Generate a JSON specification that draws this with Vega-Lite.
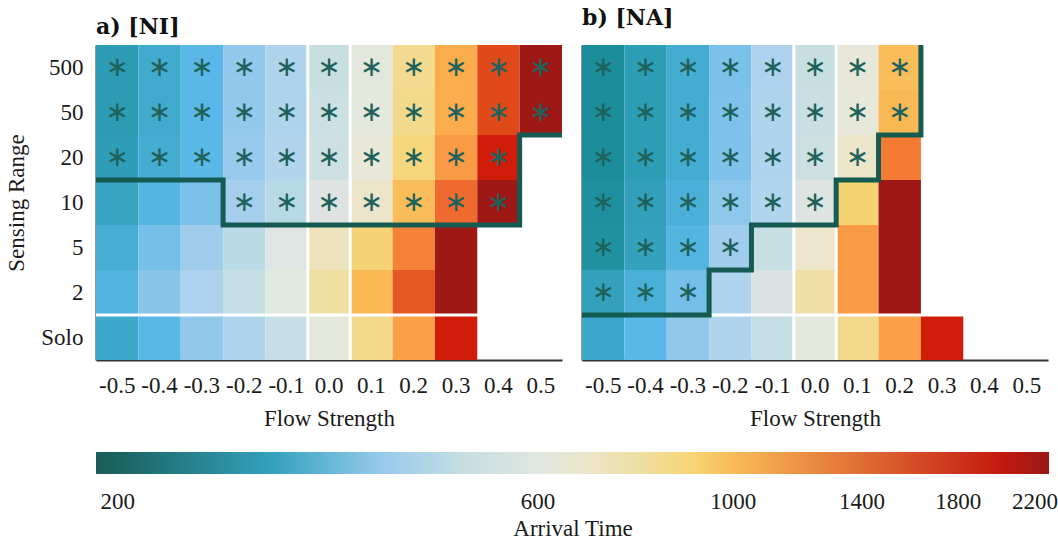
{
  "$schema": "https://vega.github.io/schema/vega-lite/v6.json",
  "background": "white",
  "padding": {"left": 5, "top": 7, "right": 5, "bottom": 2},
  "config": {
    "view": {"stroke": null},
    "font": "Liberation Serif",
    "axis": {"labelFont": "Liberation Serif", "titleFont": "Liberation Serif", "labelFontSize": 23, "titleFontSize": 23, "titleFontWeight": "normal", "labelColor": "#1a1a1a", "titleColor": "#1a1a1a", "domainColor": "#333333", "domainWidth": 2, "ticks": false, "tickSize": 0, "grid": false, "zindex": 1, "minExtent": 0},
    "legend": {"labelFont": "Liberation Serif", "titleFont": "Liberation Serif"}
  },
  "datasets": {
    "cells": [
      {"p":"NI","r":"500","f":"-0.5","t":288,"s":1},{"p":"NI","r":"500","f":"-0.4","t":318,"s":1},{"p":"NI","r":"500","f":"-0.3","t":350,"s":1},{"p":"NI","r":"500","f":"-0.2","t":395,"s":1},{"p":"NI","r":"500","f":"-0.1","t":432,"s":1},{"p":"NI","r":"500","f":"0.0","t":500,"s":1},{"p":"NI","r":"500","f":"0.1","t":625,"s":1},{"p":"NI","r":"500","f":"0.2","t":830,"s":1},{"p":"NI","r":"500","f":"0.3","t":1060,"s":1},{"p":"NI","r":"500","f":"0.4","t":1700,"s":1},{"p":"NI","r":"500","f":"0.5","t":2250,"s":1},
      {"p":"NI","r":"50","f":"-0.5","t":288,"s":1},{"p":"NI","r":"50","f":"-0.4","t":318,"s":1},{"p":"NI","r":"50","f":"-0.3","t":350,"s":1},{"p":"NI","r":"50","f":"-0.2","t":395,"s":1},{"p":"NI","r":"50","f":"-0.1","t":432,"s":1},{"p":"NI","r":"50","f":"0.0","t":505,"s":1},{"p":"NI","r":"50","f":"0.1","t":630,"s":1},{"p":"NI","r":"50","f":"0.2","t":835,"s":1},{"p":"NI","r":"50","f":"0.3","t":1070,"s":1},{"p":"NI","r":"50","f":"0.4","t":1700,"s":1},{"p":"NI","r":"50","f":"0.5","t":2250,"s":1},
      {"p":"NI","r":"20","f":"-0.5","t":292,"s":1},{"p":"NI","r":"20","f":"-0.4","t":322,"s":1},{"p":"NI","r":"20","f":"-0.3","t":352,"s":1},{"p":"NI","r":"20","f":"-0.2","t":400,"s":1},{"p":"NI","r":"20","f":"-0.1","t":437,"s":1},{"p":"NI","r":"20","f":"0.0","t":510,"s":1},{"p":"NI","r":"20","f":"0.1","t":650,"s":1},{"p":"NI","r":"20","f":"0.2","t":880,"s":1},{"p":"NI","r":"20","f":"0.3","t":1200,"s":1},{"p":"NI","r":"20","f":"0.4","t":1920,"s":1},
      {"p":"NI","r":"10","f":"-0.5","t":305,"s":0},{"p":"NI","r":"10","f":"-0.4","t":345,"s":0},{"p":"NI","r":"10","f":"-0.3","t":375,"s":0},{"p":"NI","r":"10","f":"-0.2","t":415,"s":1},{"p":"NI","r":"10","f":"-0.1","t":460,"s":1},{"p":"NI","r":"10","f":"0.0","t":560,"s":1},{"p":"NI","r":"10","f":"0.1","t":690,"s":1},{"p":"NI","r":"10","f":"0.2","t":990,"s":1},{"p":"NI","r":"10","f":"0.3","t":1510,"s":1},{"p":"NI","r":"10","f":"0.4","t":2250,"s":1},
      {"p":"NI","r":"5","f":"-0.5","t":325,"s":0},{"p":"NI","r":"5","f":"-0.4","t":370,"s":0},{"p":"NI","r":"5","f":"-0.3","t":410,"s":0},{"p":"NI","r":"5","f":"-0.2","t":465,"s":0},{"p":"NI","r":"5","f":"-0.1","t":570,"s":0},{"p":"NI","r":"5","f":"0.0","t":720,"s":0},{"p":"NI","r":"5","f":"0.1","t":900,"s":0},{"p":"NI","r":"5","f":"0.2","t":1350,"s":0},{"p":"NI","r":"5","f":"0.3","t":2250,"s":0},
      {"p":"NI","r":"2","f":"-0.5","t":340,"s":0},{"p":"NI","r":"2","f":"-0.4","t":385,"s":0},{"p":"NI","r":"2","f":"-0.3","t":425,"s":0},{"p":"NI","r":"2","f":"-0.2","t":490,"s":0},{"p":"NI","r":"2","f":"-0.1","t":610,"s":0},{"p":"NI","r":"2","f":"0.0","t":780,"s":0},{"p":"NI","r":"2","f":"0.1","t":1010,"s":0},{"p":"NI","r":"2","f":"0.2","t":1620,"s":0},{"p":"NI","r":"2","f":"0.3","t":2250,"s":0},
      {"p":"NI","r":"Solo","f":"-0.5","t":315,"s":0},{"p":"NI","r":"Solo","f":"-0.4","t":350,"s":0},{"p":"NI","r":"Solo","f":"-0.3","t":395,"s":0},{"p":"NI","r":"Solo","f":"-0.2","t":432,"s":0},{"p":"NI","r":"Solo","f":"-0.1","t":490,"s":0},{"p":"NI","r":"Solo","f":"0.0","t":630,"s":0},{"p":"NI","r":"Solo","f":"0.1","t":840,"s":0},{"p":"NI","r":"Solo","f":"0.2","t":1150,"s":0},{"p":"NI","r":"Solo","f":"0.3","t":1920,"s":0},
      {"p":"NA","r":"500","f":"-0.5","t":262,"s":1},{"p":"NA","r":"500","f":"-0.4","t":290,"s":1},{"p":"NA","r":"500","f":"-0.3","t":322,"s":1},{"p":"NA","r":"500","f":"-0.2","t":375,"s":1},{"p":"NA","r":"500","f":"-0.1","t":425,"s":1},{"p":"NA","r":"500","f":"0.0","t":500,"s":1},{"p":"NA","r":"500","f":"0.1","t":640,"s":1},{"p":"NA","r":"500","f":"0.2","t":990,"s":1},
      {"p":"NA","r":"50","f":"-0.5","t":262,"s":1},{"p":"NA","r":"50","f":"-0.4","t":290,"s":1},{"p":"NA","r":"50","f":"-0.3","t":322,"s":1},{"p":"NA","r":"50","f":"-0.2","t":377,"s":1},{"p":"NA","r":"50","f":"-0.1","t":427,"s":1},{"p":"NA","r":"50","f":"0.0","t":502,"s":1},{"p":"NA","r":"50","f":"0.1","t":645,"s":1},{"p":"NA","r":"50","f":"0.2","t":1010,"s":1},
      {"p":"NA","r":"20","f":"-0.5","t":262,"s":1},{"p":"NA","r":"20","f":"-0.4","t":290,"s":1},{"p":"NA","r":"20","f":"-0.3","t":322,"s":1},{"p":"NA","r":"20","f":"-0.2","t":378,"s":1},{"p":"NA","r":"20","f":"-0.1","t":428,"s":1},{"p":"NA","r":"20","f":"0.0","t":510,"s":1},{"p":"NA","r":"20","f":"0.1","t":690,"s":1},{"p":"NA","r":"20","f":"0.2","t":1400,"s":0},
      {"p":"NA","r":"10","f":"-0.5","t":266,"s":1},{"p":"NA","r":"10","f":"-0.4","t":296,"s":1},{"p":"NA","r":"10","f":"-0.3","t":330,"s":1},{"p":"NA","r":"10","f":"-0.2","t":390,"s":1},{"p":"NA","r":"10","f":"-0.1","t":435,"s":1},{"p":"NA","r":"10","f":"0.0","t":550,"s":1},{"p":"NA","r":"10","f":"0.1","t":905,"s":0},{"p":"NA","r":"10","f":"0.2","t":2250,"s":0},
      {"p":"NA","r":"5","f":"-0.5","t":270,"s":1},{"p":"NA","r":"5","f":"-0.4","t":300,"s":1},{"p":"NA","r":"5","f":"-0.3","t":342,"s":1},{"p":"NA","r":"5","f":"-0.2","t":410,"s":1},{"p":"NA","r":"5","f":"-0.1","t":495,"s":0},{"p":"NA","r":"5","f":"0.0","t":680,"s":0},{"p":"NA","r":"5","f":"0.1","t":1200,"s":0},{"p":"NA","r":"5","f":"0.2","t":2250,"s":0},
      {"p":"NA","r":"2","f":"-0.5","t":298,"s":1},{"p":"NA","r":"2","f":"-0.4","t":330,"s":1},{"p":"NA","r":"2","f":"-0.3","t":368,"s":1},{"p":"NA","r":"2","f":"-0.2","t":427,"s":0},{"p":"NA","r":"2","f":"-0.1","t":545,"s":0},{"p":"NA","r":"2","f":"0.0","t":770,"s":0},{"p":"NA","r":"2","f":"0.1","t":1200,"s":0},{"p":"NA","r":"2","f":"0.2","t":2250,"s":0},
      {"p":"NA","r":"Solo","f":"-0.5","t":315,"s":0},{"p":"NA","r":"Solo","f":"-0.4","t":350,"s":0},{"p":"NA","r":"Solo","f":"-0.3","t":395,"s":0},{"p":"NA","r":"Solo","f":"-0.2","t":432,"s":0},{"p":"NA","r":"Solo","f":"-0.1","t":490,"s":0},{"p":"NA","r":"Solo","f":"0.0","t":630,"s":0},{"p":"NA","r":"Solo","f":"0.1","t":840,"s":0},{"p":"NA","r":"Solo","f":"0.2","t":1150,"s":0},{"p":"NA","r":"Solo","f":"0.3","t":1920,"s":0}
    ],
    "boundary": [
      {"p":"NI","i":0,"x":-0.55,"y":4},{"p":"NI","i":1,"x":-0.25,"y":4},{"p":"NI","i":2,"x":-0.25,"y":3},{"p":"NI","i":3,"x":0.45,"y":3},{"p":"NI","i":4,"x":0.45,"y":5},{"p":"NI","i":5,"x":0.55,"y":5},
      {"p":"NA","i":0,"x":-0.55,"y":1},{"p":"NA","i":1,"x":-0.25,"y":1},{"p":"NA","i":2,"x":-0.25,"y":2},{"p":"NA","i":3,"x":-0.15,"y":2},{"p":"NA","i":4,"x":-0.15,"y":3},{"p":"NA","i":5,"x":0.05,"y":3},{"p":"NA","i":6,"x":0.05,"y":4},{"p":"NA","i":7,"x":0.15,"y":4},{"p":"NA","i":8,"x":0.15,"y":5},{"p":"NA","i":9,"x":0.25,"y":5},{"p":"NA","i":10,"x":0.25,"y":7}
    ],
    "vsep": [{"x":-0.05},{"x":0.05}],
    "hsep": [{"y":1}]
  },
  "spacing": 0,
  "resolve": {"scale": {"color": "shared"}, "legend": {"color": "shared"}},
  "hconcat": [
    {
      "width": 466, "height": 315,
      "title": {"text": "a) [NI]", "anchor": "start", "frame": "group", "font": "DejaVu Serif", "fontSize": 22, "fontWeight": "bold", "color": "#111111", "offset": 5},
      "resolve": {"scale": {"x": "independent", "y": "independent"}},
      "layer": [
        {
          "data": {"name": "cells"},
          "transform": [{"filter": "datum.p == 'NI'"}],
          "encoding": {
            "x": {"field": "f", "type": "ordinal", "scale": {"type": "band", "domain": ["-0.5","-0.4","-0.3","-0.2","-0.1","0.0","0.1","0.2","0.3","0.4","0.5"], "paddingInner": 0, "paddingOuter": 0}, "axis": {"title": "Flow Strength", "labelAngle": 0, "labelPadding": 14, "titlePadding": 10}},
            "y": {"field": "r", "type": "ordinal", "scale": {"type": "band", "domain": ["500","50","20","10","5","2","Solo"], "paddingInner": 0, "paddingOuter": 0}, "axis": {"title": "Sensing Range", "labelPadding": 13, "titlePadding": 12}}
          },
          "layer": [
            {
              "mark": {"type": "rect"},
              "encoding": {
                "color": {"field": "t", "type": "quantitative",
                  "scale": {"type": "log", "domain": [189, 226, 352, 427, 555, 655, 903, 1041, 1205, 1513, 1915, 2282], "range": ["#1d5c58", "#0a7676", "#5bb9e8", "#b0d3ee", "#dfe4e3", "#ebe8d9", "#f6d474", "#fbb04e", "#f99a44", "#ef6a2e", "#d01d0a", "#9a1816"]},
                  "legend": {"orient": "none", "legendX": 0, "legendY": 407, "direction": "horizontal", "gradientLength": 953, "gradientThickness": 22, "gradientStrokeWidth": 0, "values": [200, 600, 1000, 1400, 1800, 2200], "format": "d", "title": "Arrival Time", "titleOrient": "bottom", "titleAnchor": "middle", "titleFontSize": 23, "titleFontWeight": "normal", "titleColor": "#1a1a1a", "titlePadding": 4, "labelFontSize": 23, "labelColor": "#1a1a1a", "labelOffset": 17, "labelOverlap": false}
                }
              }
            },
            {
              "transform": [{"filter": "datum.s == 1"}],
              "mark": {"type": "text", "text": "∗", "font": "DejaVu Sans", "fontSize": 28, "color": "#1e625b", "baseline": "middle", "align": "center"}
            }
          ]
        },
        {
          "layer": [
            {
              "data": {"name": "vsep"},
              "mark": {"type": "rule", "color": "white", "strokeWidth": 3},
              "encoding": {"x": {"field": "x", "type": "quantitative", "scale": {"domain": [-0.55, 0.55], "nice": false, "zero": false}, "axis": null}}
            },
            {
              "data": {"name": "hsep"},
              "mark": {"type": "rule", "color": "white", "strokeWidth": 3},
              "encoding": {"y": {"field": "y", "type": "quantitative", "scale": {"domain": [0, 7], "nice": false, "zero": false}, "axis": null}}
            },
            {
              "data": {"name": "boundary"},
              "transform": [{"filter": "datum.p == 'NI'"}],
              "mark": {"type": "line", "color": "#165b52", "strokeWidth": 5, "strokeJoin": "miter"},
              "encoding": {
                "x": {"field": "x", "type": "quantitative", "scale": {"domain": [-0.55, 0.55], "nice": false, "zero": false}, "axis": null},
                "y": {"field": "y", "type": "quantitative", "scale": {"domain": [0, 7], "nice": false, "zero": false}, "axis": null},
                "order": {"field": "i"}
              }
            }
          ]
        }
      ]
    },
    {
      "width": 466, "height": 315,
      "title": {"text": "b) [NA]", "anchor": "start", "frame": "group", "font": "DejaVu Serif", "fontSize": 22, "fontWeight": "bold", "color": "#111111", "offset": 5},
      "resolve": {"scale": {"x": "independent", "y": "independent"}},
      "layer": [
        {
          "data": {"name": "cells"},
          "transform": [{"filter": "datum.p == 'NA'"}],
          "encoding": {
            "x": {"field": "f", "type": "ordinal", "scale": {"type": "band", "domain": ["-0.5","-0.4","-0.3","-0.2","-0.1","0.0","0.1","0.2","0.3","0.4","0.5"], "paddingInner": 0, "paddingOuter": 0}, "axis": {"title": "Flow Strength", "labelAngle": 0, "labelPadding": 14, "titlePadding": 10}},
            "y": {"field": "r", "type": "ordinal", "scale": {"type": "band", "domain": ["500","50","20","10","5","2","Solo"], "paddingInner": 0, "paddingOuter": 0}, "axis": {"title": null, "labels": false}}
          },
          "layer": [
            {
              "mark": {"type": "rect"},
              "encoding": {
                "color": {"field": "t", "type": "quantitative",
                  "scale": {"type": "log", "domain": [189, 226, 352, 427, 555, 655, 903, 1041, 1205, 1513, 1915, 2282], "range": ["#1d5c58", "#0a7676", "#5bb9e8", "#b0d3ee", "#dfe4e3", "#ebe8d9", "#f6d474", "#fbb04e", "#f99a44", "#ef6a2e", "#d01d0a", "#9a1816"]}
                }
              }
            },
            {
              "transform": [{"filter": "datum.s == 1"}],
              "mark": {"type": "text", "text": "∗", "font": "DejaVu Sans", "fontSize": 28, "color": "#1e625b", "baseline": "middle", "align": "center"}
            }
          ]
        },
        {
          "layer": [
            {
              "data": {"name": "vsep"},
              "mark": {"type": "rule", "color": "white", "strokeWidth": 3},
              "encoding": {"x": {"field": "x", "type": "quantitative", "scale": {"domain": [-0.55, 0.55], "nice": false, "zero": false}, "axis": null}}
            },
            {
              "data": {"name": "hsep"},
              "mark": {"type": "rule", "color": "white", "strokeWidth": 3},
              "encoding": {"y": {"field": "y", "type": "quantitative", "scale": {"domain": [0, 7], "nice": false, "zero": false}, "axis": null}}
            },
            {
              "data": {"name": "boundary"},
              "transform": [{"filter": "datum.p == 'NA'"}],
              "mark": {"type": "line", "color": "#165b52", "strokeWidth": 5, "strokeJoin": "miter"},
              "encoding": {
                "x": {"field": "x", "type": "quantitative", "scale": {"domain": [-0.55, 0.55], "nice": false, "zero": false}, "axis": null},
                "y": {"field": "y", "type": "quantitative", "scale": {"domain": [0, 7], "nice": false, "zero": false}, "axis": null},
                "order": {"field": "i"}
              }
            }
          ]
        }
      ]
    }
  ]
}
